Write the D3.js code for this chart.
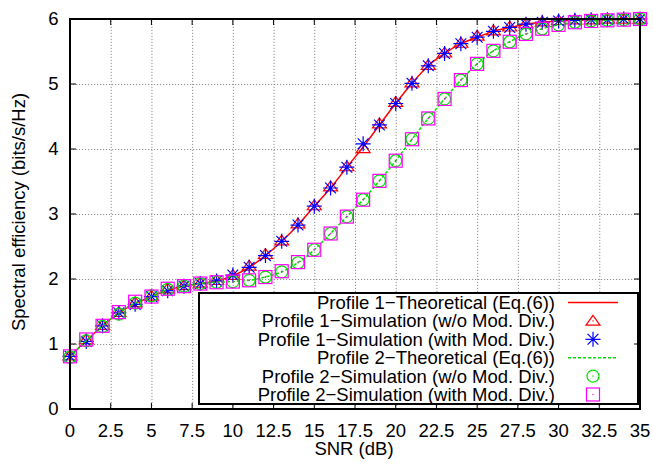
<!DOCTYPE html>
<html>
<head>
<meta charset="utf-8" />
<script src="https://cdn.jsdelivr.net/npm/d3@7"></script>
<style>
body { margin: 0; background: #fff; }
svg text { font-family: "Liberation Sans", Arial, sans-serif; fill: #000; font-size: 18.5px; }
.grid line { stroke: #909090; stroke-dasharray: 1.2,1.8; }
.grid path { display: none; }
</style>
</head>
<body>
<svg id="chart" width="653" height="467"></svg>
<script>
// SNR values (dB)
var snr = d3.range(0, 36);

// Profile 1
var p1Theory = [0.82,1.05,1.28,1.48,1.62,1.73,1.83,1.89,1.93,1.97,2.05,2.18,2.36,2.58,2.83,3.12,3.40,3.72,4.03,4.37,4.70,5.01,5.28,5.47,5.62,5.72,5.81,5.87,5.92,5.95,5.97,5.98,5.99,5.99,6.0,6.0];
var p1SimNoDiv = [0.82,1.07,1.29,1.49,1.64,1.74,1.85,1.90,1.94,1.98,2.06,2.20,2.38,2.59,2.85,3.13,3.42,3.73,4.01,4.39,4.72,5.02,5.29,5.48,5.63,5.74,5.82,5.88,5.93,5.96,5.98,5.99,5.99,6.0,6.0,6.0];
var p1SimDiv = [0.81,1.04,1.28,1.48,1.61,1.73,1.82,1.89,1.93,1.97,2.06,2.18,2.36,2.58,2.83,3.12,3.40,3.72,4.08,4.37,4.70,5.01,5.28,5.47,5.62,5.72,5.81,5.87,5.92,5.95,5.97,5.98,5.99,5.99,6.0,6.0];

// Profile 2
var p2Theory = [0.80,1.05,1.28,1.48,1.63,1.73,1.84,1.89,1.93,1.95,1.96,1.98,2.03,2.11,2.25,2.45,2.70,2.96,3.22,3.51,3.82,4.15,4.47,4.77,5.06,5.31,5.51,5.65,5.77,5.85,5.91,5.95,5.97,5.98,5.99,6.0];
var p2SimNoDiv = [0.80,1.05,1.27,1.46,1.63,1.74,1.84,1.89,1.93,1.95,1.96,1.98,2.03,2.11,2.25,2.45,2.70,2.96,3.22,3.51,3.82,4.15,4.47,4.77,5.06,5.31,5.51,5.65,5.77,5.85,5.91,5.95,5.97,5.98,5.99,6.0];
var p2SimDiv = [0.81,1.07,1.28,1.49,1.65,1.73,1.85,1.89,1.93,1.95,1.96,1.98,2.03,2.12,2.26,2.45,2.70,2.96,3.22,3.51,3.82,4.15,4.47,4.77,5.06,5.31,5.51,5.65,5.77,5.85,5.91,5.95,5.97,5.98,5.99,6.0];

var xTicks = [0,2.5,5,7.5,10,12.5,15,17.5,20,22.5,25,27.5,30,32.5,35];
var yTicks = [0,1,2,3,4,5,6];
var legendLabels = [
  "Profile 1\u2212Theoretical (Eq.(6))",
  "Profile 1\u2212Simulation (w/o Mod. Div.)",
  "Profile 1\u2212Simulation (with Mod. Div.)",
  "Profile 2\u2212Theoretical (Eq.(6))",
  "Profile 2\u2212Simulation (w/o Mod. Div.)",
  "Profile 2\u2212Simulation (with Mod. Div.)"
];

var pLeft = 70, pRight = 640, pTop = 19, pBottom = 409;
var svg = d3.select("#chart");

var x = d3.scaleLinear().domain([0, 35]).range([pLeft, pRight]);
var y = d3.scaleLinear().domain([0, 6]).range([pBottom, pTop]);

// grid
svg.append("g").attr("class", "grid")
  .attr("transform", "translate(0," + pBottom + ")")
  .call(d3.axisBottom(x).tickValues(xTicks).tickSize(-(pBottom - pTop)).tickFormat(""));
svg.append("g").attr("class", "grid")
  .attr("transform", "translate(" + pLeft + ",0)")
  .call(d3.axisLeft(y).tickValues(yTicks).tickSize(-(pRight - pLeft)).tickFormat(""));

function pts(vals) { return snr.map(function(s, i) { return [s, vals[i]]; }); }
var line = d3.line().x(function(d) { return x(d[0]); }).y(function(d) { return y(d[1]); }).curve(d3.curveMonotoneX);

var g = svg.append("g");

// symbol drawers (gnuplot style points)
function triangle(sel, cx, cy) {
  var r = 7;
  sel.append("path")
    .attr("d", "M" + cx + "," + (cy - r * 0.8) + "L" + (cx + r) + "," + (cy + r * 0.6) + "L" + (cx - r) + "," + (cy + r * 0.6) + "Z")
    .attr("fill", "none").attr("stroke", "#ff0000").attr("stroke-width", 1.2);
  sel.append("rect").attr("x", cx - 0.6).attr("y", cy - 0.6).attr("width", 1.2).attr("height", 1.2).attr("fill", "#ff0000");
}
function star(sel, cx, cy) {
  var r = 7.5, d = r * 0.72;
  sel.append("path")
    .attr("d", "M" + (cx - r) + "," + cy + "H" + (cx + r) + "M" + cx + "," + (cy - r) + "V" + (cy + r) +
      "M" + (cx - d) + "," + (cy - d) + "L" + (cx + d) + "," + (cy + d) +
      "M" + (cx - d) + "," + (cy + d) + "L" + (cx + d) + "," + (cy - d))
    .attr("stroke", "#0000ff").attr("stroke-width", 1.2).attr("fill", "none");
}
function circle(sel, cx, cy) {
  sel.append("circle").attr("cx", cx).attr("cy", cy).attr("r", 6)
    .attr("fill", "none").attr("stroke", "#00e000").attr("stroke-width", 1.2);
  sel.append("rect").attr("x", cx - 0.6).attr("y", cy - 0.6).attr("width", 1.2).attr("height", 1.2).attr("fill", "#00c000");
}
function square(sel, cx, cy) {
  var r = 6.5;
  sel.append("rect").attr("x", cx - r).attr("y", cy - r).attr("width", 2 * r).attr("height", 2 * r)
    .attr("fill", "none").attr("stroke", "#ff00ff").attr("stroke-width", 1.2);
  sel.append("rect").attr("x", cx - 0.6).attr("y", cy - 0.6).attr("width", 1.2).attr("height", 1.2).attr("fill", "#ff00ff");
}

g.append("path").datum(pts(p1Theory)).attr("d", line)
  .attr("fill", "none").attr("stroke", "#ff0000").attr("stroke-width", 1.5);
pts(p1SimNoDiv).forEach(function(d) { triangle(g, x(d[0]), y(d[1])); });
pts(p1SimDiv).forEach(function(d) { star(g, x(d[0]), y(d[1])); });
g.append("path").datum(pts(p2Theory)).attr("d", line)
  .attr("fill", "none").attr("stroke", "#00e000").attr("stroke-width", 1.5).attr("stroke-dasharray", "3,2");
pts(p2SimNoDiv).forEach(function(d) { circle(g, x(d[0]), y(d[1])); });
pts(p2SimDiv).forEach(function(d) { square(g, x(d[0]), y(d[1])); });

// legend
var lg = svg.append("g");
lg.append("rect").attr("x", 199).attr("y", 293).attr("width", 439).attr("height", 111)
  .attr("fill", "#fff").attr("stroke", "#000").attr("stroke-width", 2);
var rowY = d3.scalePoint().domain(d3.range(6)).range([302.5, 394.5]);
legendLabels.forEach(function(t, i) {
  var ry = rowY(i);
  lg.append("text").attr("x", 555).attr("y", ry).attr("dy", "0.35em")
    .attr("text-anchor", "end").text(t);
  var sx = 593;
  if (i === 0) lg.append("line").attr("x1", 568).attr("x2", 618).attr("y1", ry).attr("y2", ry)
    .attr("stroke", "#ff0000").attr("stroke-width", 1.5);
  if (i === 3) lg.append("line").attr("x1", 568).attr("x2", 618).attr("y1", ry).attr("y2", ry)
    .attr("stroke", "#00e000").attr("stroke-width", 1.5).attr("stroke-dasharray", "3,2");
  if (i === 1) triangle(lg, sx, ry);
  if (i === 2) star(lg, sx, ry);
  if (i === 4) circle(lg, sx, ry);
  if (i === 5) square(lg, sx, ry);
});

// border and inward ticks (mirrored)
var tk = svg.append("g").attr("stroke", "#000").attr("stroke-width", 1);
xTicks.forEach(function(v) {
  tk.append("line").attr("x1", x(v)).attr("x2", x(v)).attr("y1", pBottom).attr("y2", pBottom - 6);
  tk.append("line").attr("x1", x(v)).attr("x2", x(v)).attr("y1", pTop).attr("y2", pTop + 6);
});
yTicks.forEach(function(v) {
  tk.append("line").attr("x1", pLeft).attr("x2", pLeft + 6).attr("y1", y(v)).attr("y2", y(v));
  tk.append("line").attr("x1", pRight).attr("x2", pRight - 6).attr("y1", y(v)).attr("y2", y(v));
});
svg.append("rect").attr("x", pLeft).attr("y", pTop).attr("width", pRight - pLeft).attr("height", pBottom - pTop)
  .attr("fill", "none").attr("stroke", "#000").attr("stroke-width", 2);

// tick labels
svg.append("g").selectAll("text").data(xTicks).join("text")
  .attr("x", function(d) { return x(d); }).attr("y", 436.5)
  .attr("text-anchor", "middle").text(function(d) { return d; });
svg.append("g").selectAll("text").data(yTicks).join("text")
  .attr("x", 58.5).attr("y", function(d) { return y(d); }).attr("dy", "0.35em")
  .attr("text-anchor", "end").text(function(d) { return d; });

// axis titles
svg.append("text").attr("x", 354).attr("y", 455).attr("text-anchor", "middle")
  .text("SNR (dB)");
svg.append("text").attr("transform", "translate(25,212) rotate(-90)")
  .attr("text-anchor", "middle").text("Spectral efficiency (bits/s/Hz)");
</script>
</body>
</html>
